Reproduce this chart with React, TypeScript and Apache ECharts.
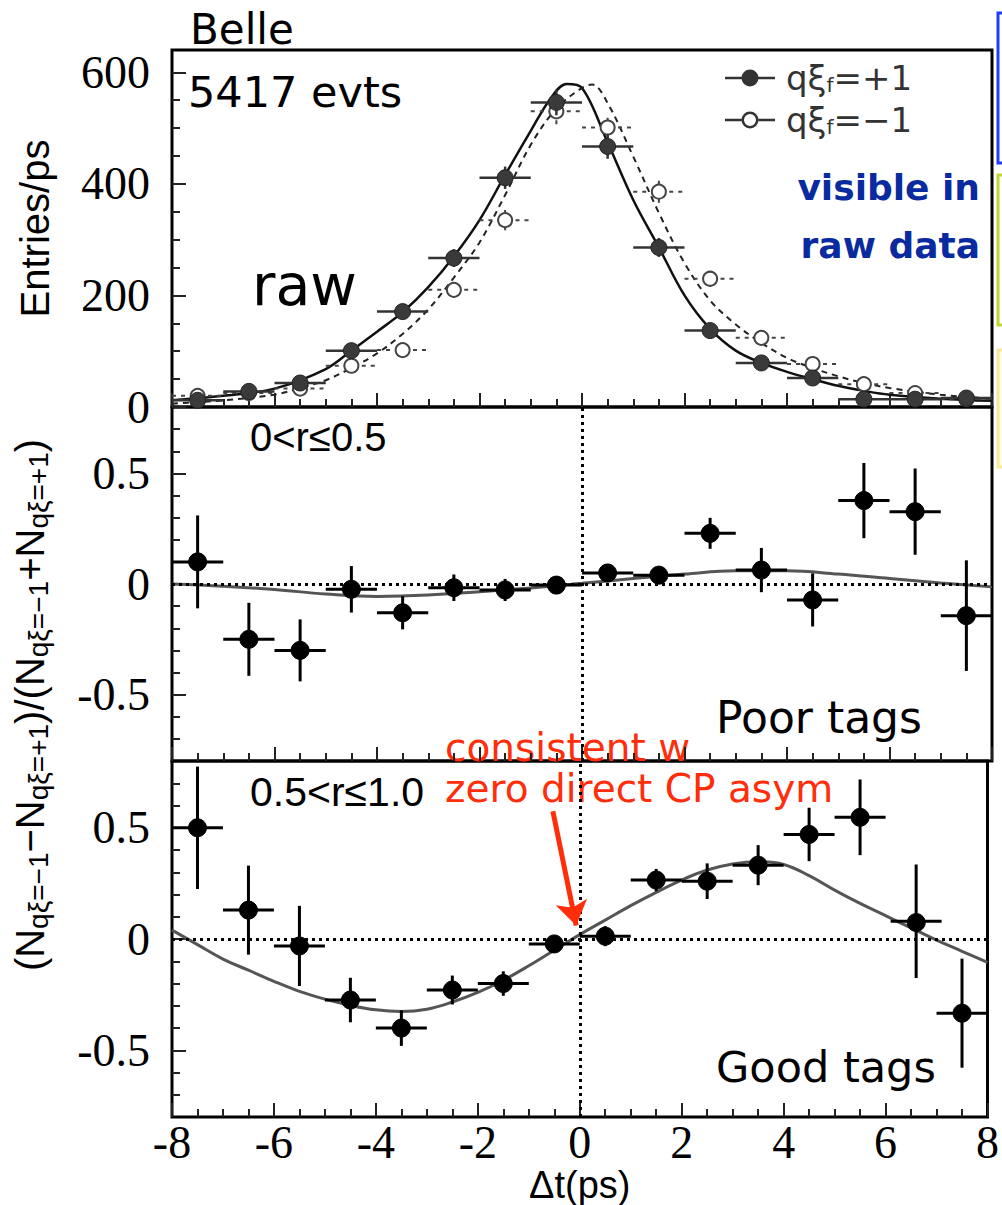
import React, { useEffect, useRef } from "react";
import * as echarts from "echarts";

// ---------- data ----------
const binCenters = [-7.5, -6.5, -5.5, -4.5, -3.5, -2.5, -1.5, -0.5, 0.5, 1.5, 2.5, 3.5, 4.5, 5.5, 6.5, 7.5];
const goodCenters = [-7.5, -6.5, -5.5, -4.5, -3.5, -2.5, -1.5, -0.5, 0.5, 1.5, 2.5, 3.5, 4.5, 5.5, 6.6, 7.5];
const binHalfWidth = 0.5;

// top panel: raw entries/ps
const rawPlus = [12, 28, 43, 101, 171, 267, 411, 546, 467, 286, 137, 79, 52, 14, 14, 16];
const rawPlusErr = [4, 6, 7, 10, 13, 16, 20, 23, 22, 17, 12, 9, 7, 4, 4, 4];
const rawMinus = [20, 25, 33, 74, 102, 210, 335, 530, 501, 386, 230, 124, 77, 41, 25, 14];
const rawMinusErr = [5, 5, 6, 9, 10, 14, 18, 23, 22, 20, 15, 11, 9, 6, 5, 4];

const fitPlusX = [-8, -7, -6, -5, -4.5, -4, -3.5, -3, -2.5, -2, -1.5, -1, -0.6, -0.3, 0, 0.5, 1, 1.5, 2, 2.5, 3, 3.5, 4, 4.5, 5, 5.5, 6, 7, 8];
const fitPlusY = [12, 20, 33, 68, 101, 135, 170, 215, 270, 335, 416, 495, 555, 579, 572, 474, 371, 286, 200, 140, 101, 79, 63, 50, 38, 29, 22, 15, 11];
const fitMinusX = [-8, -7, -6, -5.5, -5, -4.5, -4, -3.5, -3, -2.5, -2, -1.5, -1, -0.5, 0, 0.2, 0.5, 1, 1.5, 2, 2.5, 3, 3.5, 4, 4.5, 5, 5.5, 6, 7, 8];
const fitMinusY = [6, 12, 22, 34, 48, 70, 96, 131, 175, 232, 295, 380, 470, 535, 572, 578, 545, 449, 348, 258, 191, 148, 115, 88, 70, 55, 43, 34, 22, 15];

// middle panel: poor tags asymmetry
const poorY = [0.10, -0.25, -0.30, -0.024, -0.13, -0.017, -0.027, -0.005, 0.05, 0.04, 0.229, 0.063, -0.072, 0.377, 0.327, -0.143];
const poorErr = [0.21, 0.165, 0.14, 0.105, 0.075, 0.06, 0.05, 0.035, 0.04, 0.04, 0.07, 0.10, 0.12, 0.17, 0.195, 0.25];
const poorFitX = [-8, -7, -6, -5, -4, -3, -2, -1, 0, 1, 2, 3, 4, 5, 6, 7, 8];
const poorFitY = [0.0, -0.01, -0.025, -0.045, -0.056, -0.05, -0.035, -0.018, 0.003, 0.025, 0.045, 0.06, 0.06, 0.045, 0.025, 0.005, -0.013];

// bottom panel: good tags asymmetry
const goodY = [0.50, 0.13, -0.031, -0.274, -0.40, -0.229, -0.20, -0.022, 0.013, 0.265, 0.26, 0.332, 0.47, 0.547, 0.08, -0.333];
const goodErr = [0.275, 0.20, 0.18, 0.10, 0.08, 0.065, 0.055, 0.035, 0.045, 0.05, 0.08, 0.09, 0.12, 0.17, 0.255, 0.245];
const goodFitX = [-8, -7.5, -7, -6.5, -6, -5.5, -5, -4.5, -4, -3.5, -3, -2.5, -2, -1.5, -1, -0.5, 0, 0.5, 1, 1.5, 2, 2.5, 3, 3.5, 4, 4.5, 5, 5.5, 6, 6.5, 7, 7.5, 8];
const goodFitY = [0.04, -0.025, -0.09, -0.14, -0.19, -0.235, -0.27, -0.298, -0.318, -0.325, -0.315, -0.283, -0.24, -0.185, -0.12, -0.05, 0.02, 0.085, 0.15, 0.21, 0.265, 0.31, 0.337, 0.347, 0.335, 0.285, 0.22, 0.16, 0.105, 0.05, -0.005, -0.055, -0.105];

// axis ticks
const topMajor = [0, 200, 400, 600];
const topMinor = [50, 100, 150, 250, 300, 350, 450, 500, 550, 600];
const asymMajor = [-0.5, 0, 0.5];
const asymMinor = [-0.7, -0.6, -0.4, -0.3, -0.2, -0.1, 0.1, 0.2, 0.3, 0.4, 0.6, 0.7];

// ---------- helpers ----------
const pts = (xs: number[], ys: number[], es: number[]) =>
  xs.map((x, i) => [x, ys[i], x - binHalfWidth, x + binHalfWidth, ys[i] - es[i], ys[i] + es[i]]);
const pairs = (xs: number[], ys: number[]) => xs.map((x, i) => [x, ys[i]]);

function errRender(o: any) {
  return (params: any, api: any) => {
    const x = api.value(0), y = api.value(1);
    const c = api.coord([x, y]);
    const a = api.coord([api.value(2), y]);
    const b = api.coord([api.value(3), y]);
    const lo = api.coord([x, api.value(4)]);
    const hi = api.coord([x, api.value(5)]);
    return {
      type: "group",
      children: [
        { type: "line", shape: { x1: a[0], y1: a[1], x2: b[0], y2: b[1] }, style: { stroke: o.color, lineWidth: o.lw, lineDash: o.dash || null } },
        { type: "line", shape: { x1: lo[0], y1: lo[1], x2: hi[0], y2: hi[1] }, style: { stroke: o.color, lineWidth: o.lw, lineDash: o.dash || null } },
        { type: "circle", shape: { cx: c[0], cy: c[1], r: o.r }, style: { fill: o.fill, stroke: o.stroke, lineWidth: o.slw } },
      ],
    };
  };
}

const SERIF = "Liberation Serif";
const SANS = "Liberation Sans";
const HAND = "DejaVu Sans";

function xAxisCfg(gridIndex: number, withLabels: boolean) {
  return {
    type: "value", gridIndex, min: -8, max: 8, interval: 2,
    axisLine: { show: false, onZero: false },
    splitLine: { show: false },
    axisTick: { show: true, inside: true, length: 14, lineStyle: { color: "#222", width: 2 } },
    minorTick: { show: true, splitNumber: 4, length: 8, lineStyle: { color: "#222", width: 2 } },
    axisLabel: { show: withLabels, fontFamily: SERIF, fontSize: 46, color: "#000", margin: 2 },
    name: withLabels ? "Δt(ps)" : "",
    nameLocation: "middle", nameGap: 45,
    nameTextStyle: { fontFamily: SANS, fontSize: 38, color: "#000", lineHeight: 38 },
  };
}

function yAxisPair(gridIndex: number, min: number, max: number, major: number[], minor: number[], extra: any = {}) {
  return [
    {
      type: "value", gridIndex, min, max, position: "left",
      axisLine: { show: false, onZero: false }, splitLine: { show: false },
      axisTick: { show: true, inside: true, length: 14, customValues: major, lineStyle: { color: "#222", width: 2 } },
      axisLabel: { show: true, customValues: major, fontFamily: SERIF, fontSize: 46, color: "#000", margin: 22 },
      ...extra,
    },
    {
      type: "value", gridIndex, min, max, position: "left",
      axisLine: { show: false, onZero: false }, splitLine: { show: false },
      axisTick: { show: true, inside: true, length: 8, customValues: minor, lineStyle: { color: "#222", width: 2 } },
      axisLabel: { show: false },
    },
  ];
}

const iconFilled = "path://M0,7.3h50v2.4h-50z M33.5,8.5a8.5,8.5 0 1,1 -17,0a8.5,8.5 0 1,1 17,0z";
const iconOpen = "path://M0,7.3h16.5v2.4h-16.5z M33.5,7.3h16.5v2.4h-16.5z M33.5,8.5a8.5,8.5 0 1,1 -17,0a8.5,8.5 0 1,1 17,0z M31,8.5a6,6 0 1,0 -12,0a6,6 0 1,0 12,0z";

const zeroLines = {
  silent: true, symbol: ["none", "none"], label: { show: false },
  lineStyle: { type: [3, 4], color: "#000", width: 3 },
  data: [{ yAxis: 0 }, { xAxis: 0 }],
};

const gridStyle = { show: true, borderColor: "#000", borderWidth: 3, backgroundColor: "transparent" };

export default function App() {
  const ref = useRef<HTMLDivElement>(null);
  useEffect(() => {
    if (!ref.current) return;
    const chart = echarts.init(ref.current, null, { renderer: "svg" });
    const option: any = {
      animation: false,
      backgroundColor: "#fff",
      grid: [
        { left: 172, top: 50, width: 820, height: 357, ...gridStyle },
        { left: 172, top: 407, width: 820, height: 354, ...gridStyle },
        { left: 172, top: 761, width: 820, height: 357, ...gridStyle },
      ],
      xAxis: [xAxisCfg(0, false), xAxisCfg(1, false), xAxisCfg(2, true)],
      yAxis: [
        ...yAxisPair(0, 0, 640, topMajor, topMinor, {
          name: "Entries/ps", nameLocation: "middle", nameRotate: 90, nameGap: 117,
          nameTextStyle: { fontFamily: SANS, fontSize: 40, color: "#000", lineHeight: 40 },
        }),
        ...yAxisPair(1, -0.8, 0.8, asymMajor, asymMinor),
        ...yAxisPair(2, -0.8, 0.8, asymMajor, asymMinor),
      ],
      legend: {
        left: 725, top: 61, orient: "vertical", itemGap: 8, padding: 0,
        itemWidth: 50, itemHeight: 17, selectedMode: false,
        data: [
          { name: "plus", icon: iconFilled },
          { name: "minus", icon: iconOpen },
        ],
        formatter: (n: string) => (n === "plus" ? "{a|qξ}{s|f}{a|=+1}" : "{a|qξ}{s|f}{a|=−1}"),
        textStyle: {
          padding: [0, 0, 0, 6],
          rich: {
            a: { fontFamily: HAND, fontSize: 34, lineHeight: 34, color: "#333" },
            s: { fontFamily: HAND, fontSize: 20, lineHeight: 14, verticalAlign: "bottom", color: "#333" },
          },
        },
      },
      series: [
        {
          type: "line", name: "fit+", xAxisIndex: 0, yAxisIndex: 0, data: pairs(fitPlusX, fitPlusY),
          smooth: 0.35, showSymbol: false, silent: true, lineStyle: { color: "#111", width: 2.5 }, z: 2,
        },
        {
          type: "line", name: "fit-", xAxisIndex: 0, yAxisIndex: 0, data: pairs(fitMinusX, fitMinusY),
          smooth: 0.35, showSymbol: false, silent: true, lineStyle: { color: "#222", width: 2, type: [6, 5] }, z: 2,
        },
        {
          type: "custom", name: "minus", xAxisIndex: 0, yAxisIndex: 0, data: pts(binCenters, rawMinus, rawMinusErr),
          encode: { x: 0, y: 1 }, itemStyle: { color: "#333" }, z: 3,
          renderItem: errRender({ color: "#444", lw: 2, dash: [4, 5], r: 7, fill: "#fff", stroke: "#444", slw: 2 }),
        },
        {
          type: "custom", name: "plus", xAxisIndex: 0, yAxisIndex: 0, data: pts(binCenters, rawPlus, rawPlusErr),
          encode: { x: 0, y: 1 }, itemStyle: { color: "#333" }, z: 4,
          renderItem: errRender({ color: "#333", lw: 2.5, r: 8, fill: "#3a3a3a", stroke: "#222", slw: 1 }),
        },
        {
          type: "line", name: "poorFit", xAxisIndex: 1, yAxisIndex: 2, data: pairs(poorFitX, poorFitY),
          smooth: 0.4, showSymbol: false, silent: true, lineStyle: { color: "#555", width: 3 }, z: 2,
          markLine: zeroLines,
        },
        {
          type: "custom", name: "poor", xAxisIndex: 1, yAxisIndex: 2, data: pts(binCenters, poorY, poorErr),
          encode: { x: 0, y: 1 }, itemStyle: { color: "#000" }, z: 4,
          renderItem: errRender({ color: "#000", lw: 3, r: 9, fill: "#000", stroke: "#000", slw: 1 }),
        },
        {
          type: "line", name: "goodFit", xAxisIndex: 2, yAxisIndex: 4, data: pairs(goodFitX, goodFitY),
          smooth: 0.4, showSymbol: false, silent: true, lineStyle: { color: "#555", width: 3 }, z: 2,
          markLine: zeroLines,
        },
        {
          type: "custom", name: "good", xAxisIndex: 2, yAxisIndex: 4, data: pts(goodCenters, goodY, goodErr),
          encode: { x: 0, y: 1 }, itemStyle: { color: "#000" }, z: 4,
          renderItem: errRender({ color: "#000", lw: 3, r: 9, fill: "#000", stroke: "#000", slw: 1 }),
          markLine: {
            silent: true, symbol: ["none", "arrow"], symbolSize: 24, label: { show: false },
            lineStyle: { type: "solid", color: "#ff2d0a", width: 5 }, itemStyle: { color: "#ff2d0a" },
            data: [[{ coord: [-0.527, 0.574] }, { coord: [-0.07, 0.061] }]],
          },
        },
      ],
      graphic: [
        { type: "text", x: 190, y: 29, style: { text: "Belle", fontFamily: HAND, fontSize: 42, fill: "#000", align: "left", verticalAlign: "middle" } },
        { type: "text", x: 188, y: 92, style: { text: "5417 evts", fontFamily: HAND, fontSize: 43, fill: "#000", align: "left", verticalAlign: "middle" } },
        { type: "text", x: 252, y: 285, style: { text: "raw", fontFamily: HAND, fontSize: 57, fill: "#000", align: "left", verticalAlign: "middle" } },
        { type: "text", x: 980, y: 187, style: { text: "visible in", fontFamily: HAND, fontWeight: "bold", fontSize: 36, fill: "#0a2aa0", align: "right", verticalAlign: "middle" } },
        { type: "text", x: 980, y: 245, style: { text: "raw data", fontFamily: HAND, fontWeight: "bold", fontSize: 36, fill: "#0a2aa0", align: "right", verticalAlign: "middle" } },
        { type: "text", x: 250, y: 437, style: { text: "0<r≤0.5", fontFamily: SANS, fontSize: 40, fill: "#000", align: "left", verticalAlign: "middle" } },
        { type: "text", x: 250, y: 792, style: { text: "0.5<r≤1.0", fontFamily: SANS, fontSize: 41, fill: "#000", align: "left", verticalAlign: "middle" } },
        { type: "text", x: 716, y: 717, style: { text: "Poor tags", fontFamily: HAND, fontSize: 44, fill: "#000", align: "left", verticalAlign: "middle" } },
        { type: "text", x: 716, y: 1067, style: { text: "Good tags", fontFamily: HAND, fontSize: 43, fill: "#000", align: "left", verticalAlign: "middle" } },
        { type: "text", x: 445, y: 747, style: { text: "consistent w", fontFamily: HAND, fontSize: 39, fill: "#ff2d0a", align: "left", verticalAlign: "middle" } },
        { type: "text", x: 445, y: 788, style: { text: "zero direct CP asym", fontFamily: HAND, fontSize: 39, fill: "#ff2d0a", align: "left", verticalAlign: "middle" } },
        {
          type: "text", x: 30, y: 705, rotation: Math.PI / 2,
          style: {
            text: "{m|(N}{s|qξ=−1}{m|−N}{s|qξ=+1}{m|)/(N}{s|qξ=−1}{m|+N}{s|qξ=+1}{m|)}",
            align: "center", verticalAlign: "middle",
            rich: {
              m: { fontFamily: SANS, fontSize: 40, lineHeight: 44, fill: "#000" },
              s: { fontFamily: SANS, fontSize: 28, lineHeight: 28, verticalAlign: "bottom", fill: "#000" },
            },
          },
        },
        { type: "rect", shape: { x: 998, y: 13, width: 20, height: 150 }, style: { fill: "none", stroke: "#1f3cff", lineWidth: 3 } },
        { type: "rect", shape: { x: 998, y: 175, width: 20, height: 150 }, style: { fill: "none", stroke: "#c2d632", lineWidth: 3 } },
        { type: "rect", shape: { x: 998, y: 350, width: 20, height: 117 }, style: { fill: "#fffce6", stroke: "#f3ea9c", lineWidth: 3 } },
      ],
    };
    chart.setOption(option);
    return () => chart.dispose();
  }, []);
  return <div ref={ref} style={{ position: "absolute", left: 0, top: 0, width: 1002, height: 1205 }} />;
}
